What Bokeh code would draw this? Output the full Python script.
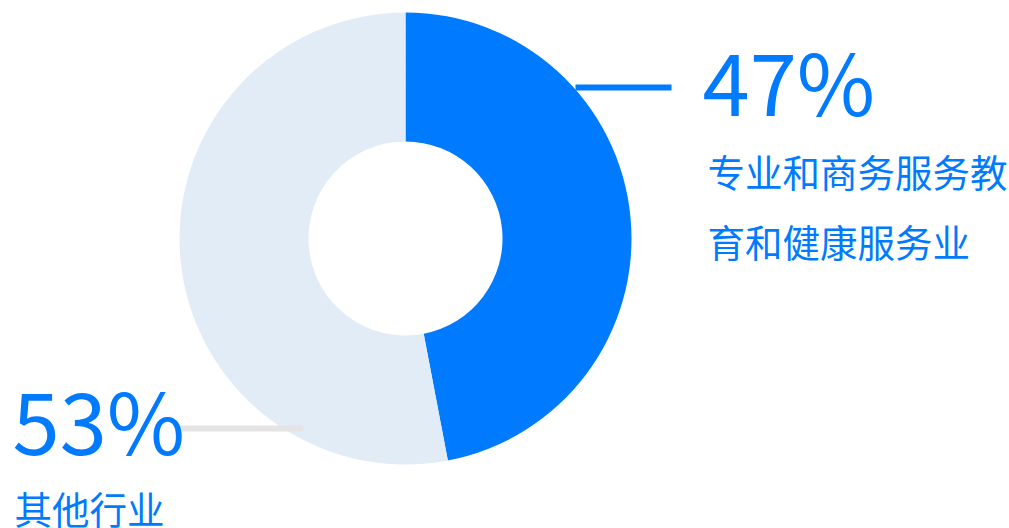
import math
from bokeh.plotting import figure
from bokeh.models import Range1d
from bokeh.core.properties import value
from bokeh.embed import file_html
from bokeh.resources import INLINE

# data
categories = ["专业和商务服务教育和健康服务业", "其他行业"]
shares = [47, 53]
pct_labels = ["47%", "53%"]
name_lines_a = ["专业和商务服务教", "育和健康服务业"]
name_lines_b = ["其他行业"]
colors = ["#007bff", "#e2ecf6"]

W, H = 1009, 528
p = figure(width=W, height=H, output_backend="svg", toolbar_location=None,
           x_range=Range1d(0, W), y_range=Range1d(0, H),
           min_border=0, outline_line_color=None)
p.axis.visible = False
p.grid.visible = False
p.background_fill_color = "white"

def py(page_y):
    return H - page_y

cx, cy = 405, py(238)
total = sum(shares)
start = math.pi / 2
starts, ends = [], []
for s in shares:
    sweep = 2 * math.pi * s / total
    ends.append(start)
    starts.append(start - sweep)
    start -= sweep

p.annular_wedge(x=[cx] * 2, y=[cy] * 2, inner_radius=97, outer_radius=226,
                start_angle=starts, end_angle=ends, fill_color=colors,
                line_color=None)

# leader lines
p.segment(x0=[575], y0=[py(87)], x1=[671], y1=[py(87)], line_color="#007bff", line_width=6)
p.segment(x0=[178], y0=[py(428)], x1=[303], y1=[py(428)], line_color="#e4e4e4", line_width=6)

font = value("Noto Sans CJK SC")
p.text(x=[702], y=[py(78)], text=[pct_labels[0]], text_font=font, text_font_size="85px",
       text_color="#007bff", text_baseline="middle", text_align="left")
p.text(x=[12], y=[py(417)], text=[pct_labels[1]], text_font=font, text_font_size="85px",
       text_color="#007bff", text_baseline="middle", text_align="left")
p.text(x=[707, 707], y=[py(170), py(240)], text=name_lines_a, text_font=font,
       text_font_size="37.5px", text_color="#007bff", text_baseline="middle", text_align="left")
p.text(x=[14], y=[py(507)], text=name_lines_b, text_font=font,
       text_font_size="37.5px", text_color="#007bff", text_baseline="middle", text_align="left")

open("out.html", "w").write(file_html(p, INLINE))
